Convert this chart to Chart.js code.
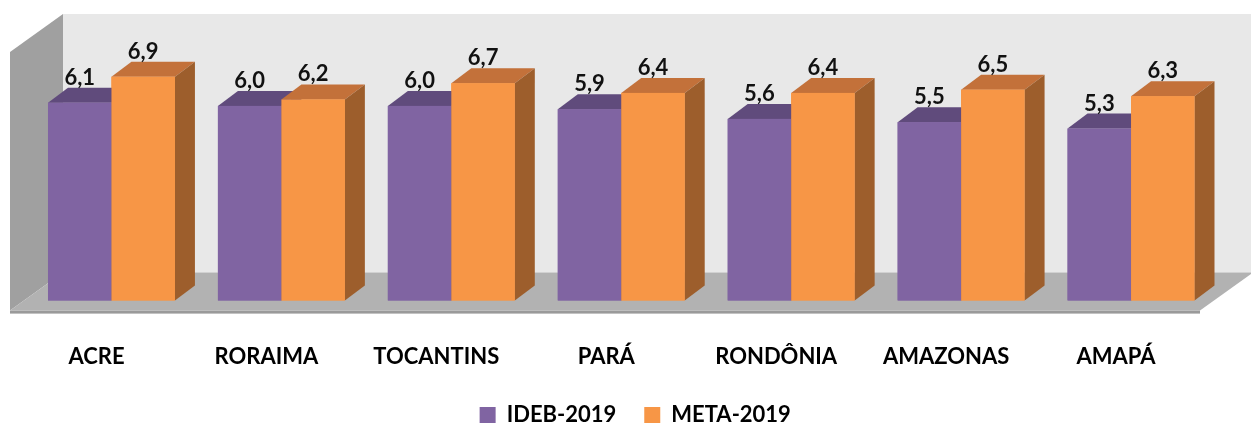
<!DOCTYPE html>
<html>
<head>
<meta charset="utf-8">
<script src="https://cdn.jsdelivr.net/npm/chart.js@4.4.0/dist/chart.umd.min.js"></script>
<style>
  body { margin: 0; background: #fff; }
  #wrap { width: 1251px; height: 427px; }
</style>
</head>
<body>
<div id="wrap"><canvas id="chart" width="1251" height="427"></canvas></div>
<script>
const categories = ['ACRE', 'RORAIMA', 'TOCANTINS', 'PARÁ', 'RONDÔNIA', 'AMAZONAS', 'AMAPÁ'];
const ideb2019 = [6.1, 6.0, 6.0, 5.9, 5.6, 5.5, 5.3];
const meta2019 = [6.9, 6.2, 6.7, 6.4, 6.4, 6.5, 6.3];
const seriesNames = ['IDEB-2019', 'META-2019'];

// colours: front, top, side
const faces = [
    { front: '#8064A2', top: '#604B7C', side: '#4F3E66' },
    { front: '#F79646', top: '#C3713A', side: '#9D5E2C' }
];
const BAR_DX = 20, BAR_DY = 15;     // bar depth
const WALL_DX = 53, WALL_DY = 38;   // box depth
const FONT = 'Lato';

const fmt = v => v.toFixed(1).replace('.', ',');

const box3d = {
    id: 'box3d',
    afterLayout(chart) {
        // legend sits a little right of centre in the original
        chart.legend.left += 14;
        chart.legend.right += 14;
    },
    beforeDatasetsDraw(chart) {
        const ctx = chart.ctx;
        const ca = chart.chartArea;
        const zero = chart.scales.y.getPixelForValue(0);
        const fl = ca.left - 16.5, fr = ca.right - 16;
        const ff = zero + 10, fb = ff - WALL_DY;
        const bl = fl + WALL_DX, br = fr + WALL_DX;
        const topFront = ca.top + 11, topBack = topFront - WALL_DY;

        ctx.save();
        // back wall
        ctx.fillStyle = '#E8E8E8';
        ctx.fillRect(bl, topBack, br - bl, fb - topBack);
        // left wall
        ctx.fillStyle = '#A0A0A0';
        ctx.beginPath();
        ctx.moveTo(fl, topFront);
        ctx.lineTo(bl, topBack);
        ctx.lineTo(bl, fb);
        ctx.lineTo(fl, ff);
        ctx.closePath();
        ctx.fill();
        // floor
        ctx.fillStyle = '#B2B2B2';
        ctx.beginPath();
        ctx.moveTo(fl, ff);
        ctx.lineTo(bl, fb);
        ctx.lineTo(br, fb);
        ctx.lineTo(fr, ff);
        ctx.closePath();
        ctx.fill();
        // floor front edge
        ctx.fillStyle = '#9A9A9A';
        ctx.fillRect(fl, ff, fr - fl, 3);
        ctx.restore();
    },
    afterDatasetsDraw(chart) {
        const ctx = chart.ctx;
        ctx.save();
        for (let i = 0; i < categories.length; i++) {
            for (let d = 0; d < 2; d++) {
                const bar = chart.getDatasetMeta(d).data[i];
                const { x, y, base, width } = bar.getProps(['x', 'y', 'base', 'width'], true);
                const l = x - width / 2, r = x + width / 2;
                const c = faces[d];
                // top
                ctx.fillStyle = c.top;
                ctx.beginPath();
                ctx.moveTo(l, y);
                ctx.lineTo(l + BAR_DX, y - BAR_DY);
                ctx.lineTo(r + BAR_DX, y - BAR_DY);
                ctx.lineTo(r, y);
                ctx.closePath();
                ctx.fill();
                // side
                ctx.fillStyle = c.side;
                ctx.beginPath();
                ctx.moveTo(r, y);
                ctx.lineTo(r + BAR_DX, y - BAR_DY);
                ctx.lineTo(r + BAR_DX, base - BAR_DY);
                ctx.lineTo(r, base);
                ctx.closePath();
                ctx.fill();
                // front
                ctx.fillStyle = c.front;
                ctx.fillRect(l, y, width, base - y);
            }
        }
        // value labels
        ctx.fillStyle = '#111';
        ctx.font = 'bold 22px ' + FONT;
        ctx.textAlign = 'center';
        ctx.textBaseline = 'alphabetic';
        chart.data.datasets.forEach((ds, d) => {
            chart.getDatasetMeta(d).data.forEach((bar, i) => {
                ctx.fillText(fmt(ds.data[i]), bar.x, bar.y - 18);
            });
        });
        ctx.restore();
    }
};

new Chart(document.getElementById('chart'), {
    type: 'bar',
    data: {
        labels: categories,
        datasets: [
            { label: seriesNames[0], data: ideb2019, backgroundColor: faces[0].front, borderWidth: 0 },
            { label: seriesNames[1], data: meta2019, backgroundColor: faces[1].front, borderWidth: 0 }
        ]
    },
    options: {
        responsive: false,
        animation: false,
        categoryPercentage: 0.747,
        barPercentage: 1,
        layout: { padding: { left: 26.5, right: 35, top: 41, bottom: -9 } },
        scales: {
            x: {
                offset: true,
                grid: { display: false },
                border: { display: false },
                ticks: {
                    padding: 35,
                    labelOffset: -15,
                    color: '#000',
                    maxRotation: 0,
                    autoSkip: false,
                    font: { family: FONT, weight: 'bold', size: 22 }
                },
                afterFit: scale => { scale.height -= 29; }
            },
            y: { display: false, min: 0, max: 8 }
        },
        plugins: {
            legend: {
                position: 'bottom',
                labels: {
                    boxWidth: 16,
                    boxHeight: 16,
                    padding: 28,
                    color: '#000',
                    font: { family: FONT, weight: 'bold', size: 22 }
                }
            },
            tooltip: { enabled: false }
        }
    },
    plugins: [box3d]
});
</script>
</body>
</html>
